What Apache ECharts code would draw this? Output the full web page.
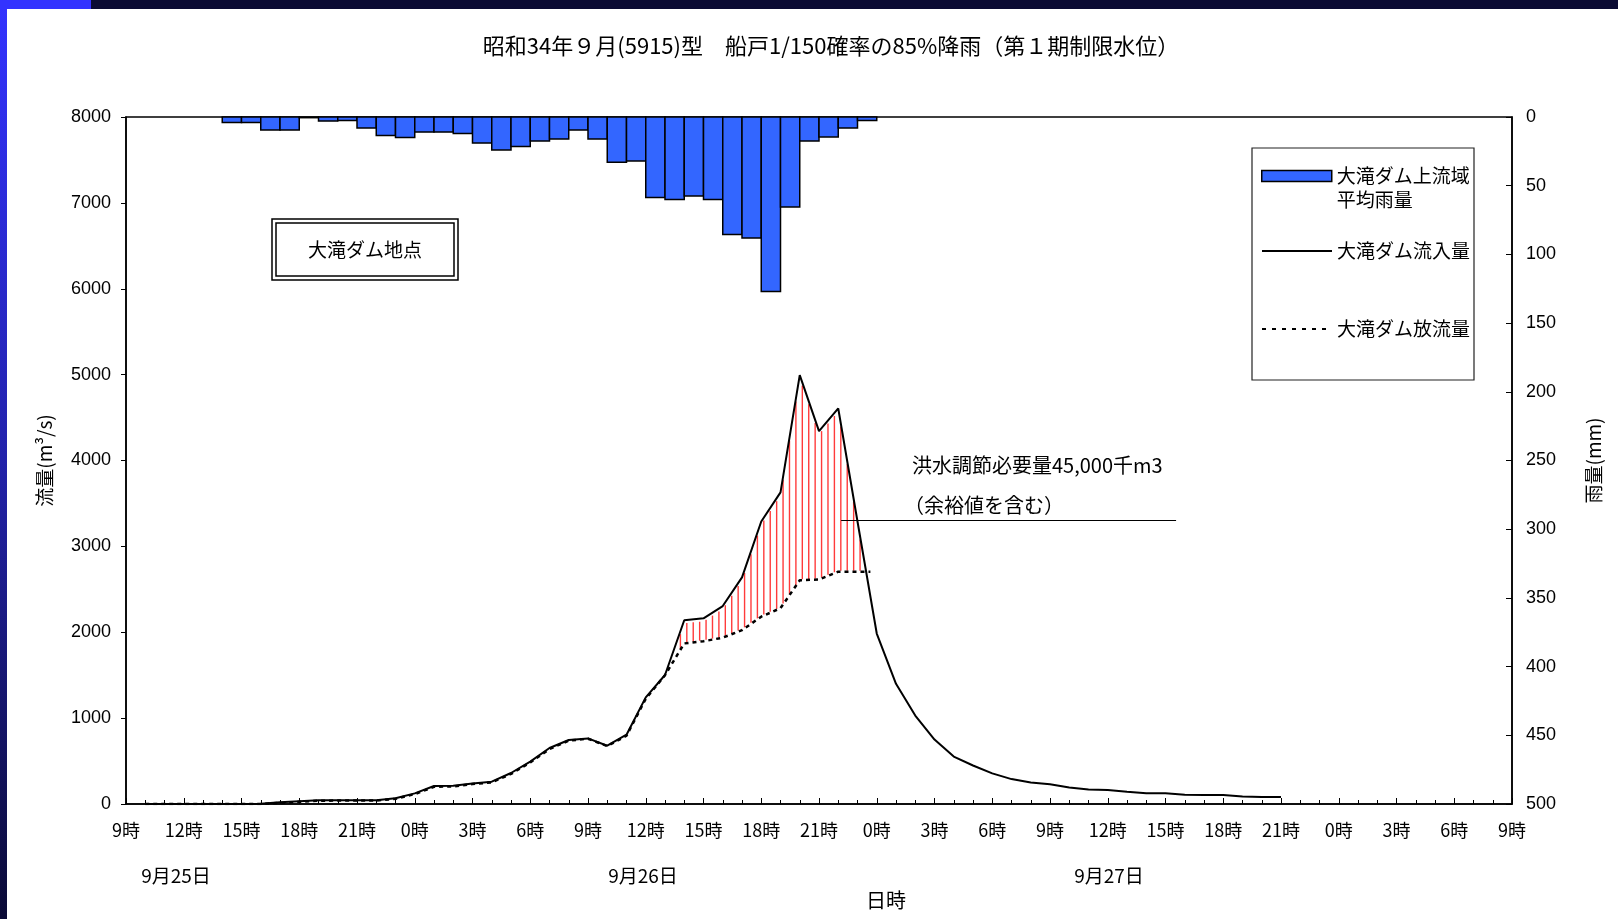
<!DOCTYPE html>
<html><head><meta charset="utf-8">
<script src="https://cdn.jsdelivr.net/npm/echarts@6/dist/echarts.min.js"></script>
<style>html,body{margin:0;padding:0;background:#fff}#c{width:1618px;height:919px}</style>
</head><body><div id="c"></div>
<script>
// ---- data ----
const titleText = '昭和34年９月(5915)型　船戸1/150確率の85%降雨（第１期制限水位）';
const hourLabels = ['9時','12時','15時','18時','21時','0時','3時','6時','9時','12時','15時','18時','21時','0時','3時','6時','9時','12時','15時','18時','21時','0時','3時','6時','9時'];
const dateLabels = ['9月25日','9月26日','9月27日'];
// hours counted from 9/25 9時
const rainStartHour = 5;
const rainValues = [4,4,9.5,9.5,0.5,3,2.5,8,13.5,15,11,11,12,19,24,21.5,17.5,16,9.5,16,33,32,58.5,60,57.5,60,85.5,88,127,65.5,17.5,14.5,8,2.5];
const inflowStartHour = 1;
const inflowValues = [0,0,0,0,0,0,2,19,31,43,43,43,43,66,124,210,212,240,260,361,493,652,745,764,679,807,1242,1502,2140,2162,2305,2639,3290,3629,4994,4342,4606,3290,1985,1400,1030,750,552,448,357,290,250,230,192,168,164,144,126,125,109,105,105,86,82,82];
const outflowHours = [1,2,3,4,5,6,7,8,9,10,11,12,13,14,15,16,17,18,19,20,21,22,23,24,25,26,27,28,29,30,31,32,33,34,35,36,37,38,38.67];
const outflowValues = [0,0,0,0,0,0,0,12,25,38,40,40,40,60,115,200,205,232,252,350,485,640,738,760,675,795,1225,1500,1870,1895,1937,2025,2181,2280,2605,2615,2705,2705,2705];
const seriesNames = ['大滝ダム上流域平均雨量','大滝ダム流入量','大滝ダム放流量'];

const JP = '"Noto Sans CJK JP", "Noto Sans", sans-serif';
const NUM = '"Liberation Sans", Arial, sans-serif';

const rainData = rainValues.map((v,i)=>[rainStartHour+i, v]);
const inflowData = inflowValues.map((v,i)=>[inflowStartHour+i, v]);
const outflowData = outflowValues.map((v,i)=>[outflowHours[i], v]);

function yAt(pts, x){
  for(let i=0;i<pts.length-1;i++){
    const a=pts[i], b=pts[i+1];
    if(x>=a[0] && x<=b[0]){
      const t = (b[0]===a[0])?0:(x-a[0])/(b[0]-a[0]);
      return a[1]+(b[1]-a[1])*t;
    }
  }
  return null;
}

const chart = echarts.init(document.getElementById('c'));
const gridL=126, gridR=106, gridT=117, gridB=115;

chart.setOption({
  backgroundColor:'#fff',
  animation:false,
  title:{text:titleText, left:831, textAlign:'center', top:35, textStyle:{fontFamily:JP, fontSize:22, fontWeight:'normal', color:'#000'}, padding:0},
  grid:{left:gridL, right:gridR, top:gridT, bottom:gridB, show:true, borderColor:'#000', borderWidth:1.5, backgroundColor:'transparent'},
  legend:[
    {data:[{name:seriesNames[0], icon:'rect', itemStyle:{color:'#3366ff', borderColor:'#000', borderWidth:1.5}}], orient:'vertical', left:1261, top:140, padding:0, itemWidth:70, itemHeight:11,
      formatter:()=> '\n大滝ダム上流域\n平均雨量', selectedMode:false,
      textStyle:{fontFamily:JP, fontSize:19, color:'#000', lineHeight:24}},
    {data:[seriesNames[1]], orient:'vertical', left:1261, top:239, padding:0, itemWidth:70, itemHeight:10, selectedMode:false,
      itemStyle:{opacity:0}, lineStyle:{opacity:1},
      textStyle:{fontFamily:JP, fontSize:19, color:'#000', lineHeight:24}},
    {data:[seriesNames[2]], orient:'vertical', left:1261, top:317, padding:0, itemWidth:70, itemHeight:10, selectedMode:false,
      itemStyle:{opacity:0}, lineStyle:{opacity:1, type:[4,6], width:2},
      textStyle:{fontFamily:JP, fontSize:19, color:'#000', lineHeight:24}}
  ],
  xAxis:{type:'value', min:0, max:72, interval:3,
    axisLine:{show:true, onZero:false, lineStyle:{color:'#000', width:1.5}},
    axisTick:{show:true, inside:true, length:6, lineStyle:{color:'#000', width:1}},
    minorTick:{show:true, splitNumber:3, length:4, lineStyle:{color:'#000', width:1}},
    splitLine:{show:false},
    axisLabel:{formatter:(v)=>hourLabels[Math.round(v/3)], margin:17, fontFamily:JP, fontSize:18, color:'#000', showMinLabel:true, showMaxLabel:true, hideOverlap:false}
  },
  yAxis:[
    {type:'value', min:0, max:8000, interval:1000, position:'left',
      name:'流量(m³/s)', nameLocation:'middle', nameRotate:90, nameGap:72,
      nameTextStyle:{fontFamily:JP, fontSize:19, color:'#000'},
      axisLine:{show:true, lineStyle:{color:'#000', width:1.5}},
      axisTick:{show:true, inside:false, length:5, lineStyle:{color:'#000'}},
      splitLine:{show:false},
      axisLabel:{margin:15, fontFamily:NUM, fontSize:18, color:'#000', formatter:(v)=>String(v)}},
    {type:'value', min:0, max:500, interval:50, position:'right', inverse:true,
      name:'雨量(mm)', nameLocation:'middle', nameRotate:90, nameGap:72,
      nameTextStyle:{fontFamily:JP, fontSize:19, color:'#000'},
      axisLine:{show:true, lineStyle:{color:'#000', width:1.5}},
      axisTick:{show:true, inside:true, length:6, lineStyle:{color:'#000'}},
      splitLine:{show:false},
      axisLabel:{margin:14, fontFamily:NUM, fontSize:18, color:'#000', formatter:(v)=>String(v)}}
  ],
  series:[
    {name:seriesNames[0], type:'custom', xAxisIndex:0, yAxisIndex:1, data:rainData, z:3,
      itemStyle:{color:'#3366ff', borderColor:'#000', borderWidth:1.5},
      renderItem:(params, api)=>{
        const h=api.value(0), v=api.value(1);
        const p0=api.coord([h,0]), p1=api.coord([h+1,v]);
        return {type:'rect', shape:{x:p0[0], y:p0[1], width:p1[0]-p0[0], height:Math.max(p1[1]-p0[1],0.5)},
          style:{fill:'#3366ff', stroke:'#000', lineWidth:1.5}};
      }},
    {name:'hatch', type:'custom', xAxisIndex:0, yAxisIndex:0, data:[[0,0]], z:2, silent:true, clip:false,
      renderItem:(params, api)=>{
        const inPts = inflowData.map(d=>api.coord(d));
        const outPts = outflowData.map(d=>api.coord(d));
        const children=[];
        const end = outflowHours[outflowHours.length-1];
        for(let h=28.8; h<=end; h+=1/3){
          const x = api.coord([h,0])[0];
          const yi = yAt(inPts,x), yo = yAt(outPts,x);
          if(yi==null||yo==null) continue;
          if(yo-yi>5) children.push({type:'line', shape:{x1:x,y1:yi+3,x2:x,y2:yo-1}, style:{stroke:'#ff3b3b', lineWidth:1.4}});
        }
        return {type:'group', children};
      }},
    {name:seriesNames[1], type:'line', data:inflowData, symbol:'none', z:5,
      lineStyle:{color:'#000', width:2}, itemStyle:{color:'rgba(0,0,0,0)'},
      markLine:{silent:true, symbol:['none','none'], label:{show:false},
        lineStyle:{color:'#000', width:1, type:'solid'},
        data:[[{coord:[37.15,3300]},{coord:[54.55,3300]}]]}},
    {name:seriesNames[2], type:'line', data:outflowData, symbol:'none', z:4,
      lineStyle:{color:'#000', width:2.5, type:[4,4]}, itemStyle:{color:'rgba(0,0,0,0)'}}
  ],
  graphic:[
    {type:'rect', shape:{x:0,y:0,width:7,height:919}, style:{fill:new echarts.graphic.LinearGradient(0,0,0,1,[{offset:0,color:'#3333ff'},{offset:0.5,color:'#2222aa'},{offset:1,color:'#0a0a35'}])}, z:100},
    {type:'rect', shape:{x:91,y:0,width:1527,height:9}, style:{fill:'#0b0b33'}, z:100},
    {type:'rect', shape:{x:0,y:0,width:91,height:9}, style:{fill:'#3333ff'}, z:100},
    {type:'rect', shape:{x:1252,y:148,width:222,height:232}, style:{fill:'none', stroke:'#222', lineWidth:1.2}, z:1},
    {type:'rect', shape:{x:272,y:219,width:186,height:61}, style:{fill:'#fff', stroke:'#000', lineWidth:1.5}, z:10},
    {type:'rect', shape:{x:276,y:223,width:178,height:53}, style:{fill:'none', stroke:'#000', lineWidth:1.5}, z:10},
    {type:'text', x:365, y:250, style:{text:'大滝ダム地点', font:'19px '+JP, fill:'#000', align:'center', verticalAlign:'middle'}, z:11},
    {type:'text', x:912, y:465, style:{text:'洪水調節必要量45,000千m3', font:'20px '+JP, fill:'#000', align:'left', verticalAlign:'middle'}, z:11},
    {type:'text', x:904, y:505, style:{text:'（余裕値を含む）', font:'20px '+JP, fill:'#000', align:'left', verticalAlign:'middle'}, z:11},
    {type:'text', x:176, y:876, style:{text:dateLabels[0], font:'19px '+JP, fill:'#000', align:'center', verticalAlign:'middle'}, z:11},
    {type:'text', x:643, y:876, style:{text:dateLabels[1], font:'19px '+JP, fill:'#000', align:'center', verticalAlign:'middle'}, z:11},
    {type:'text', x:1109, y:876, style:{text:dateLabels[2], font:'19px '+JP, fill:'#000', align:'center', verticalAlign:'middle'}, z:11},
    {type:'text', x:886, y:900, style:{text:'日時', font:'20px '+JP, fill:'#000', align:'center', verticalAlign:'middle'}, z:11}
  ]
});
</script>
</body></html>
